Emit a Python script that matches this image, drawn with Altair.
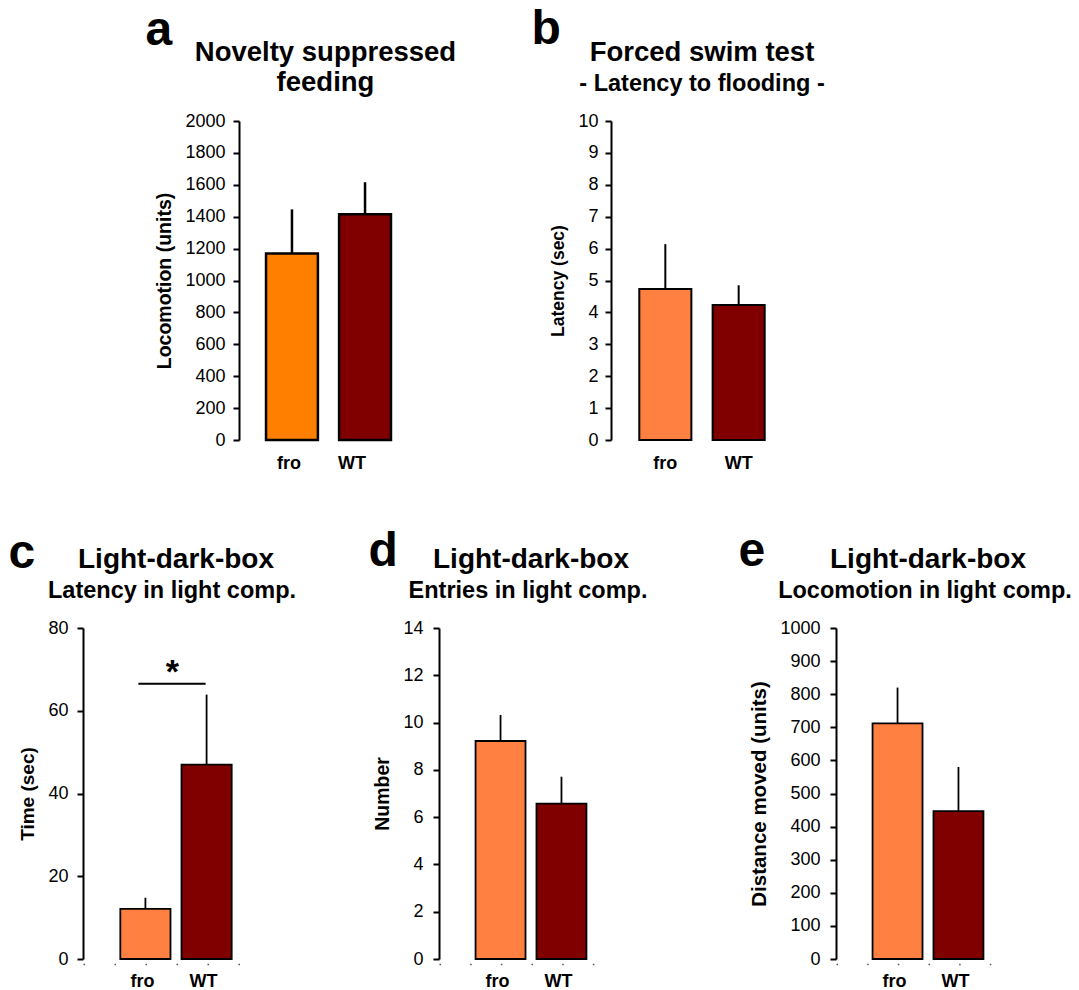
import altair as alt
import pandas as pd

FONT = "Liberation Sans"

groups = ["fro", "WT"]

# panel a - Novelty suppressed feeding
a_mean = [1170, 1415]
a_err = [276, 201]
a_ticks = [0, 200, 400, 600, 800, 1000, 1200, 1400, 1600, 1800, 2000]
a_title = ["Novelty suppressed", "feeding"]
a_ytitle = "Locomotion (units)"
a_colors = ["#FF8000", "#800000"]

# panel b - Forced swim test
b_mean = [4.73, 4.23]
b_err = [1.41, 0.62]
b_ticks = [0, 1, 2, 3, 4, 5, 6, 7, 8, 9, 10]
b_title = ["Forced swim test", "- Latency to flooding -"]
b_ytitle = "Latency (sec)"

# panel c - Light-dark-box latency
c_mean = [12.1, 47.0]
c_err = [2.7, 16.9]
c_ticks = [0, 20, 40, 60, 80]
c_title = ["Light-dark-box", "Latency in light comp."]
c_ytitle = "Time (sec)"
c_sig_y = [66.5]
c_sig_text = ["*"]

# panel d - entries
d_mean = [9.22, 6.57]
d_err = [1.10, 1.14]
d_ticks = [0, 2, 4, 6, 8, 10, 12, 14]
d_title = ["Light-dark-box", "Entries in light comp."]
d_ytitle = "Number"

# panel e - locomotion
e_mean = [712, 447]
e_err = [108, 133]
e_ticks = [0, 100, 200, 300, 400, 500, 600, 700, 800, 900, 1000]
e_title = ["Light-dark-box", "Locomotion in light comp."]
e_ytitle = "Distance moved (units)"

bde_colors = ["#FF8040", "#800000"]
letters = ["a", "b", "c", "d", "e"]


def one(text):
    return pd.DataFrame({"t": [text]})


def panel(means, errs, ticks, ytitle, ytitle_size, colors, width, height,
          pi, po, titles, title_sizes, title_dx, letter, letter_xy,
          dotted, stroke_w, err_w, label_offset, ylabel_pad, sig=None):
    df = pd.DataFrame({"group": groups, "mean": means,
                       "top": [m + e for m, e in zip(means, errs)]})
    xscale = alt.Scale(domain=groups, paddingInner=pi, paddingOuter=po)
    common = dict(title=None, labelAngle=0, ticks=False, labelFont=FONT,
                  labelFontSize=18, labelFontWeight="bold", labelColor="black",
                  labelOffset=label_offset)
    if dotted:
        xaxis = alt.Axis(domain=True, domainDash=[1.5, width / 6 - 1.5],
                         domainColor="#555555", domainWidth=1.5, offset=5,
                         labelPadding=8, **common)
    else:
        xaxis = alt.Axis(domain=False, labelPadding=14, **common)
    yaxis = alt.Axis(values=ticks, format="d", title=ytitle, grid=False, domainColor="black",
                     domainWidth=2, tickColor="black", tickWidth=2, tickSize=6,
                     labelFont=FONT, labelFontSize=18, labelColor="black",
                     labelPadding=ylabel_pad, labelOverlap=False, labelFlush=False,
                     titleFont=FONT, titleFontSize=ytitle_size, titleFontWeight="bold",
                     titleColor="black", titlePadding=10)
    yscale = alt.Scale(domain=[0, ticks[-1]], nice=False)
    x = alt.X("group:N", scale=xscale, axis=xaxis, sort=groups)
    y = alt.Y("mean:Q", scale=yscale, axis=yaxis)
    bars = alt.Chart(df).mark_bar(stroke="black", strokeWidth=stroke_w).encode(
        x=x, y=y,
        fill=alt.Fill("group:N", scale=alt.Scale(domain=groups, range=colors), legend=None),
    )
    err = alt.Chart(df).mark_rule(color="black", strokeWidth=err_w).encode(
        x=x, y=y, y2="top:Q")
    layers = [err, bars]
    if sig is not None:
        sdf = pd.DataFrame({"x1": [groups[0]], "x2": [groups[1]], "y": sig[0], "s": sig[1]})
        line = alt.Chart(sdf).mark_rule(color="black", strokeWidth=2, xOffset=-7, x2Offset=-1).encode(
            x=alt.X("x1:N", scale=xscale, axis=xaxis), x2="x2:N",
            y=alt.Y("y:Q", scale=yscale, axis=yaxis))
        star = alt.Chart(sdf).mark_text(font=FONT, fontSize=34, fontWeight="bold",
                                        baseline="alphabetic", align="center", dx=27, dy=-1).encode(
            x=alt.X("x1:N", scale=xscale, axis=xaxis),
            y=alt.Y("y:Q", scale=yscale, axis=yaxis), text="s:N")
        layers += [line, star]
    for i, (t, fs) in enumerate(zip(titles, title_sizes)):
        layers.append(alt.Chart(one(t)).mark_text(
            font=FONT, fontSize=fs, fontWeight="bold", baseline="alphabetic",
            align="center", color="black").encode(
            x=alt.value(width / 2 + title_dx[i]), y=alt.value(-60 + 30 * i), text="t:N"))
    layers.append(alt.Chart(one(letter)).mark_text(
        font=FONT, fontSize=48, fontWeight="bold", baseline="alphabetic",
        align="left", color="black").encode(
        x=alt.value(letter_xy[0]), y=alt.value(letter_xy[1]), text="t:N"))
    return alt.layer(*layers).properties(width=width, height=height)


def spacer(w, h):
    return alt.Chart(one("")).mark_rect(opacity=0).encode(
        x=alt.value(0), x2=alt.value(w), y=alt.value(0), y2=alt.value(h)
    ).properties(width=w, height=h)


A = panel(a_mean, a_err, a_ticks, a_ytitle, 19.5, a_colors, 179, 319, 0.29, 0.37,
          a_title, [27.5, 27.5], [-3, -3], letters[0], (-93.5, -76), False, 2.5, 2.5,
          {"condition": {"test": "datum.value === 'WT'", "value": -13}, "value": -3}, 8)
B = panel(b_mean, b_err, b_ticks, b_ytitle, 17.5, bde_colors, 182, 319, 0.29, 0.386,
          b_title, [27.5, 23.5], [0, 0], letters[1], (-79.5, -77), False, 2, 2, 0, 7)
C = panel(c_mean, c_err, c_ticks, c_ytitle, 19, bde_colors, 186, 331, 0.18, 0.61,
          c_title, [28, 23.5], [0, -4], letters[2], (-74.5, -60), True, 1.8, 1.8, -3, 9,
          sig=(c_sig_y, c_sig_text))
D = panel(d_mean, d_err, d_ticks, d_ytitle, 19.5, bde_colors, 184, 331, 0.18, 0.6,
          d_title, [28, 23.5], [0, -3], letters[3], (-70.5, -62), True, 1.8, 1.8, -3, 10)
E = panel(e_mean, e_err, e_ticks, e_ytitle, 20.5, bde_colors, 184, 331, 0.18, 0.6,
          e_title, [28, 23.5], [0, -3], letters[4], (-97.5, -62), True, 1.8, 1.8, -3, 10)

row1 = alt.hconcat(spacer(156, 319), A, spacer(193, 319), B,
                   spacing=0, bounds="flush").resolve_scale(fill="independent")
row2 = alt.hconcat(C, spacer(170, 331), D, spacer(213, 331), E,
                   spacing=0, bounds="flush").resolve_scale(fill="independent")

chart = alt.vconcat(row1, row2, spacing=56).resolve_scale(fill="independent").properties(
    padding={"left": 8, "top": 6, "right": 0, "bottom": 0},
    background="white",
).configure(font=FONT).configure_view(stroke="transparent", strokeWidth=0)

chart.save("out.html", embed_options={"renderer": "svg", "actions": False})
